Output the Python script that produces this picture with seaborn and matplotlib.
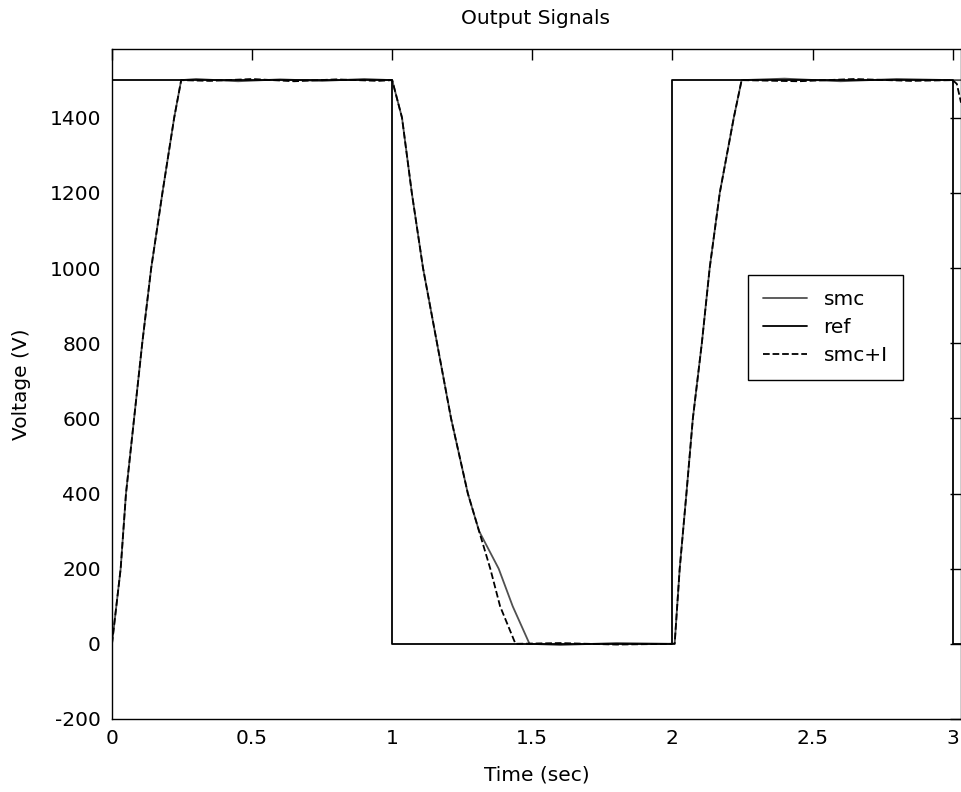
import matplotlib
matplotlib.use("Agg")
import matplotlib.pyplot as plt
import seaborn as sns
import pandas as pd

# reference square wave
ref_t = [0.0, 0.0, 1.0, 1.0, 2.0, 2.0, 3.0, 3.0, 3.05]
ref_v = [0, 1500, 1500, 0, 0, 1500, 1500, 0, 0]

# smc response
smc_t = [0.0, 0.031, 0.05, 0.079, 0.108, 0.14, 0.18, 0.222, 0.247, 0.30, 0.45, 0.60, 0.75, 0.90, 1.0,
         1.035, 1.07, 1.11, 1.16, 1.21, 1.27, 1.31, 1.38, 1.43, 1.49, 1.60, 1.80, 2.0,
         2.008, 2.026, 2.05, 2.073, 2.105, 2.133, 2.169, 2.219, 2.247, 2.40, 2.60, 2.80, 3.0, 3.05]
smc_v = [0, 200, 400, 600, 800, 1000, 1200, 1400, 1500, 1503, 1497, 1502, 1498, 1503, 1500,
         1400, 1200, 1000, 800, 600, 400, 300, 200, 100, 0, -3, 2, 0,
         0, 200, 400, 600, 800, 1000, 1200, 1400, 1500, 1504, 1497, 1503, 1500, 1500]

# smc+I response
smci_t = [0.0, 0.031, 0.05, 0.079, 0.108, 0.14, 0.18, 0.222, 0.247, 0.35, 0.50, 0.65, 0.80, 0.95, 1.0,
          1.035, 1.07, 1.11, 1.16, 1.21, 1.27, 1.31, 1.35, 1.385, 1.44, 1.60, 1.80, 2.0,
          2.008, 2.026, 2.05, 2.073, 2.105, 2.133, 2.169, 2.219, 2.247, 2.45, 2.65, 2.85, 3.0, 3.015, 3.03]
smci_v = [0, 200, 400, 600, 800, 1000, 1200, 1400, 1500, 1498, 1503, 1497, 1502, 1498, 1500,
          1400, 1200, 1000, 800, 600, 400, 300, 200, 100, 0, 2, -2, 0,
          0, 200, 400, 600, 800, 1000, 1200, 1400, 1500, 1497, 1503, 1498, 1500, 1490, 1440]

x_ticks = [0, 0.5, 1, 1.5, 2, 2.5, 3]
x_tick_labels = ["0", "0.5", "1", "1.5", "2", "2.5", "3"]
y_ticks = [-200, 0, 200, 400, 600, 800, 1000, 1200, 1400]
y_tick_labels = ["-200", "0", "200", "400", "600", "800", "1000", "1200", "1400"]

sns.set_style("white")
plt.rcParams["font.family"] = ["DejaVu Sans"]
plt.rcParams["text.color"] = "black"
plt.rcParams["axes.labelcolor"] = "black"
FS = 14.5

df_smc = pd.DataFrame({"t": smc_t, "v": smc_v})
df_ref = pd.DataFrame({"t": ref_t, "v": ref_v})
df_smci = pd.DataFrame({"t": smci_t, "v": smci_v})

fig = plt.figure(figsize=(9.62, 7.92), dpi=100)
ax = fig.add_axes([0.1164, 0.0922, 0.8826, 0.8460])

sns.lineplot(data=df_smc, x="t", y="v", ax=ax, sort=False, estimator=None,
             color="#505050", linewidth=1.3, label="smc")
sns.lineplot(data=df_ref, x="t", y="v", ax=ax, sort=False, estimator=None,
             color="black", linewidth=1.3, label="ref")
sns.lineplot(data=df_smci, x="t", y="v", ax=ax, sort=False, estimator=None,
             color="black", linewidth=1.3, linestyle="--", label="smc+I")

ax.set_xlim(0, 3.03)
ax.set_ylim(-200, 1583)
ax.set_xticks(x_ticks)
ax.set_xticklabels(x_tick_labels)
ax.set_yticks(y_ticks)
ax.set_yticklabels(y_tick_labels)
ax.tick_params(direction="in", length=8, width=1, top=True, right=True,
               labelsize=FS, colors="black")
ax.tick_params(axis="x", pad=7)
ax.tick_params(axis="y", pad=8)
for s in ax.spines.values():
    s.set_color("black")
    s.set_linewidth(1)

fig.text(0.557, 1 - 18 / 792, "Output Signals", fontsize=FS, ha="center", va="center",
         color="black")
ax.set_xlabel("Time (sec)", fontsize=FS, va="center")
ax.xaxis.set_label_coords(0.5, -0.0836)
ax.set_ylabel("Voltage (V)", fontsize=FS, va="center")
ax.yaxis.set_label_coords(-0.106, 0.5)

leg = ax.legend(loc="upper left", bbox_to_anchor=(0.749, 0.663), frameon=True,
                fancybox=False, edgecolor="black", fontsize=FS, handlelength=2.2,
                handletextpad=0.8, borderpad=0.75, labelspacing=0.45, borderaxespad=0)
leg.get_frame().set_linewidth(1)
leg.get_frame().set_alpha(1)

fig.savefig("out.png", dpi=100)
